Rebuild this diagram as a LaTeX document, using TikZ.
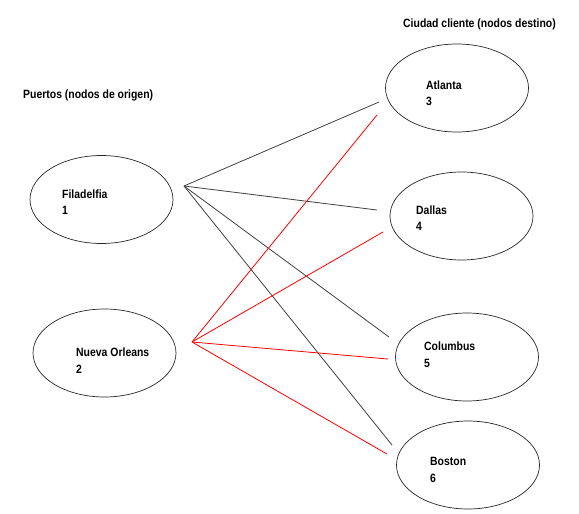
\documentclass[tikz,border=0pt]{standalone}
\usepackage{fontspec}
\newfontfamily\lab[FakeStretch=0.87]{Liberation Sans}
\usetikzlibrary{shapes.geometric}
\begin{document}
\begin{tikzpicture}[x=1pt,y=-1pt,
  city/.style={ellipse,draw=black!85,line width=0.7pt,minimum width=143pt,minimum height=88pt,inner sep=0pt},
  txt/.style={anchor=west,align=left,inner sep=0pt,font=\lab\bfseries\fontsize{12}{16.5}\selectfont},
  blk/.style={draw=black!75,line width=0.8pt},
  rd/.style={draw=red,line width=0.8pt}]
\useasboundingbox (0,0) rectangle (579,514);
% ellipses
\node[city] (fil) at (101.5,199.5) {};
\node[city] (nor) at (104.5,353) {};
\node[city] (atl) at (457,88) {};
\node[city] (dal) at (461.5,216) {};
\node[city] (col) at (467,357) {};
\node[city] (bos) at (468,465) {};
% labels
\node[txt] (tdest) at (403,24) {Ciudad cliente (nodos destino)};
\node[txt] (torig) at (23,95) {Puertos (nodos de origen)};
\node[txt] (tfil) at (62,202) {Filadelfia\\1};
\node[txt] (tnor) at (76,360.5) {Nueva Orleans\\2};
\node[txt] (tatl) at (426,93) {Atlanta\\3};
\node[txt] (tdal) at (416,218) {Dallas\\4};
\node[txt] (tcol) at (424,354.5) {Columbus\\5};
\node[txt] (tbos) at (430,470) {Boston\\6};
% connector end points
\coordinate (F) at (184,186);
\coordinate (N) at (192,342);
\coordinate (fa) at (379,102);
\coordinate (fd) at (377,210);
\coordinate (fc) at (389,337);
\coordinate (fb) at (392,445);
\coordinate (na) at (377,115);
\coordinate (nd) at (383,232);
\coordinate (nc) at (388,359);
\coordinate (nb) at (387,454);
% connectors
\draw[blk] (F) -- (fa);
\draw[blk] (F) -- (fd);
\draw[blk] (F) -- (fc);
\draw[blk] (F) -- (fb);
\draw[rd] (N) -- (na);
\draw[rd] (N) -- (nd);
\draw[rd] (N) -- (nc);
\draw[rd] (N) -- (nb);
\end{tikzpicture}
\end{document}
